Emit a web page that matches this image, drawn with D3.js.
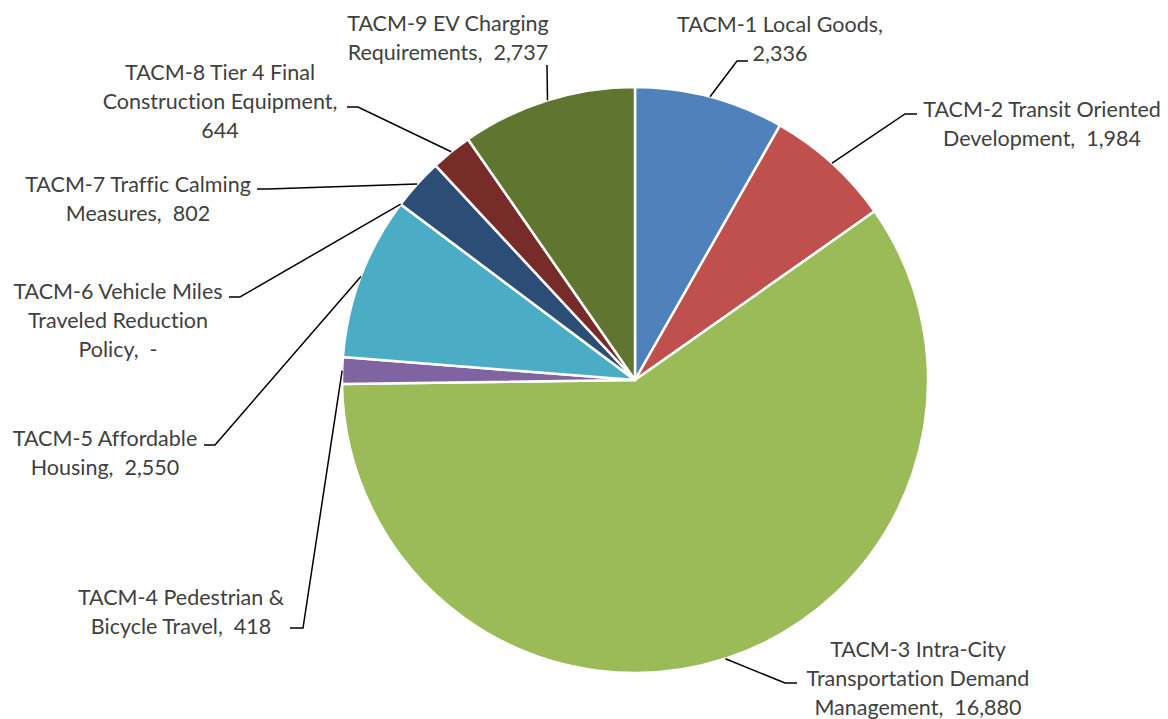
<!DOCTYPE html>
<html>
<head>
<meta charset="utf-8">
<script src="https://cdn.jsdelivr.net/npm/d3@7"></script>
<style>
  html, body { margin: 0; padding: 0; background: #ffffff; }
  svg { display: block; }
  text { font-variant-ligatures: none; }
</style>
</head>
<body>
<svg id="chart" width="1168" height="719"></svg>
<script>
// ---- data ----
const categories = [
  "TACM-1 Local Goods",
  "TACM-2 Transit Oriented Development",
  "TACM-3 Intra-City Transportation Demand Management",
  "TACM-4 Pedestrian & Bicycle Travel",
  "TACM-5 Affordable Housing",
  "TACM-6 Vehicle Miles Traveled Reduction Policy",
  "TACM-7 Traffic Calming Measures",
  "TACM-8 Tier 4 Final Construction Equipment",
  "TACM-9 EV Charging Requirements"
];
const values = [2336, 1984, 16880, 418, 2550, 0, 802, 644, 2737];
// label text split the way the reference wraps it (last line gets the value)
const labelLines = [
  ["TACM-1 Local Goods,", ""],
  ["TACM-2 Transit Oriented", "Development, "],
  ["TACM-3 Intra-City", "Transportation Demand", "Management, "],
  ["TACM-4 Pedestrian &", "Bicycle Travel, "],
  ["TACM-5 Affordable", "Housing, "],
  ["TACM-6 Vehicle Miles", "Traveled Reduction", "Policy, "],
  ["TACM-7 Traffic Calming", "Measures, "],
  ["TACM-8 Tier 4 Final", "Construction Equipment,", ""],
  ["TACM-9 EV Charging", "Requirements, "]
];
const colors = ["#4F81BD", "#C0504D", "#9BBB59", "#8064A2", "#4BACC6",
                "#F79646", "#2C4D75", "#772C2A", "#5F7530"];

// ---- layout (label placement, not data) ----
const cx = 635, cy = 380, R = 293;
const fontSize = 21.5, lineH = 29;
// label block centre x, first-line centre y, leader elbow (ex, ey), leader end x (hx)
const labelLayout = [
  { x: 780,  y: 24,  ex: 737, ey: 61,  hx: 748 },
  { x: 1042, y: 109, ex: 905, ey: 114, hx: 917 },
  { x: 918,  y: 649, ex: 785, ey: 683, hx: 797 },
  { x: 181,  y: 597, ex: 303, ey: 628, hx: 290 },
  { x: 105,  y: 438, ex: 215, ey: 445, hx: 204 },
  { x: 118,  y: 291, ex: 240, ey: 297, hx: 229 },
  { x: 138,  y: 184, ex: 268, ey: 189, hx: 257 },
  { x: 220,  y: 72,  ex: 358, ey: 107, hx: 347 },
  { x: 448,  y: 23,  ex: 547, ey: 65,  hx: 547 }
];

const fmt = v => v === 0 ? "-" : d3.format(",")(v);

const svg = d3.select("#chart");
const g = svg.append("g").attr("transform", `translate(${cx},${cy})`);

const pie = d3.pie().sort(null).value(d => d)(values);
const arc = d3.arc().innerRadius(0).outerRadius(R);
const edge = d3.arc().innerRadius(R).outerRadius(R);

g.selectAll("path.slice")
  .data(pie)
  .join("path")
  .attr("class", "slice")
  .attr("d", arc)
  .attr("fill", (d, i) => colors[i])
  .attr("stroke", "#ffffff")
  .attr("stroke-width", 2.5)
  .attr("stroke-linejoin", "round");

// leader lines
const line = d3.line();
svg.append("g").selectAll("path.leader")
  .data(pie)
  .join("path")
  .attr("class", "leader")
  .attr("d", (d, i) => {
    const c = edge.centroid(d);
    const L = labelLayout[i];
    return line([[cx + c[0], cy + c[1]], [L.ex, L.ey], [L.hx, L.ey]]);
  })
  .attr("fill", "none")
  .attr("stroke", "#000000")
  .attr("stroke-width", 1.5);

// labels
const labels = svg.append("g")
  .attr("font-family", "Lato, 'Open Sans', sans-serif")
  .attr("font-size", fontSize)
  .attr("fill", "#404040")
  .attr("text-anchor", "middle");

labels.selectAll("text")
  .data(pie)
  .join("text")
  .each(function (d, i) {
    const L = labelLayout[i];
    const lines = labelLines[i].slice();
    lines[lines.length - 1] = lines[lines.length - 1] + (lines[lines.length - 1] ? " " : "") + fmt(values[i]);
    const t = d3.select(this);
    lines.forEach((s, k) => {
      t.append("tspan")
        .attr("x", L.x)
        .attr("y", L.y + k * lineH + fontSize * 0.36)
        .attr("xml:space", "preserve")
        .style("white-space", "pre")
        .text(s);
    });
  });
</script>
</body>
</html>
